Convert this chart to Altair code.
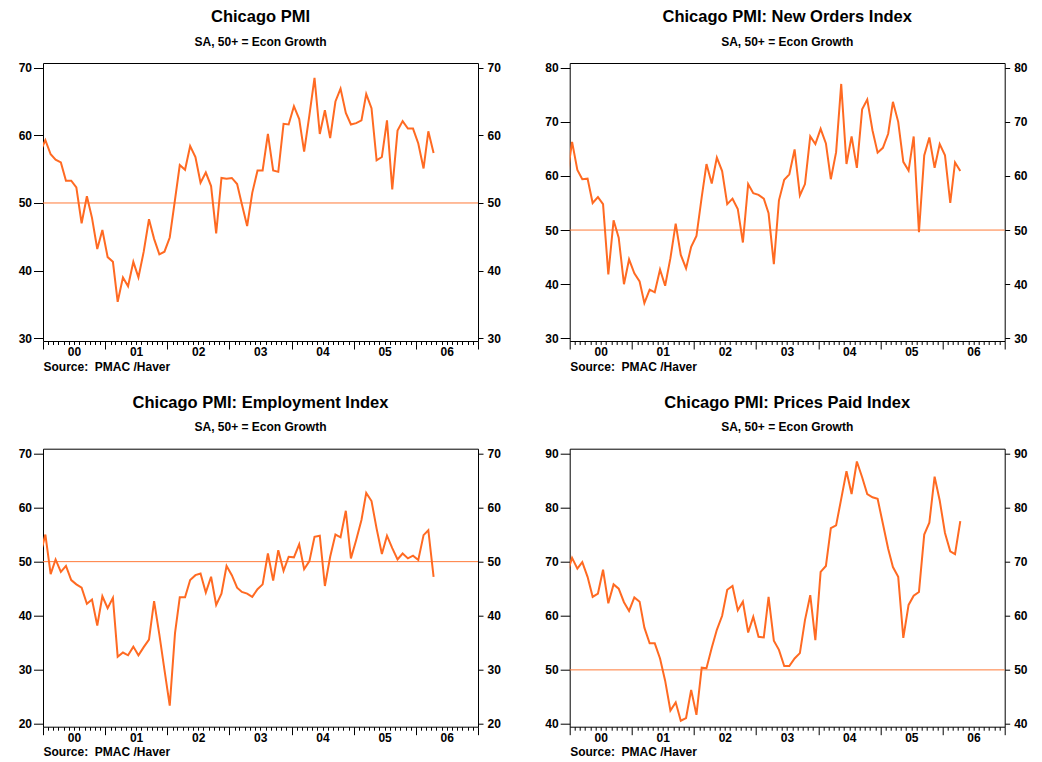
import altair as alt
import pandas as pd

# ---------------- data ----------------
# monthly observations, Dec-1999 .. Apr-2006 (first point is clipped at the frame edge)
DATES = [(d + pd.Timedelta(days=14)).strftime("%Y-%m-%d")
         for d in pd.date_range("1999-12-01", periods=77, freq="MS")]

PMI = [57.5,
       59.3, 57.2, 56.4, 56.0, 53.3, 53.3, 52.3, 47.0, 51.0, 47.8,
       43.2, 46.0, 42.0, 41.3, 35.4, 39.0, 37.7, 41.3, 39.0, 42.8,
       47.6, 44.7, 42.4, 42.8, 44.9, 50.5, 55.6, 54.9, 58.4, 56.8,
       53.0, 54.5, 52.5, 45.5, 53.7, 53.6, 53.7, 52.8, 49.8, 46.6,
       51.5, 54.8, 54.8, 60.2, 54.8, 54.6, 61.7, 61.6, 64.3, 62.4,
       57.6, 63.0, 68.5, 60.2, 63.7, 59.6, 65.0, 66.9, 63.3, 61.6,
       61.8, 62.2, 66.1, 64.0, 56.3, 56.8, 62.2, 52.0, 60.7, 62.1,
       61.0, 61.0, 58.8, 55.1, 60.6, 57.4]

NEW_ORDERS = [59.5,
              66.3, 61.1, 59.4, 59.5, 55.0, 56.1, 54.8, 41.8, 51.8, 48.6,
              40.0, 44.6, 42.0, 40.5, 36.5, 39.0, 38.5, 42.7, 39.7, 44.8,
              51.2, 45.4, 42.9, 46.9, 48.9, 56.1, 62.2, 58.6, 63.4, 60.9,
              54.8, 55.8, 53.9, 47.7, 58.5, 56.8, 56.5, 55.8, 53.1, 43.7,
              55.5, 59.3, 60.3, 64.9, 56.4, 58.5, 67.3, 65.9, 68.7, 66.0,
              59.4, 64.4, 77.0, 62.2, 67.3, 61.5, 72.3, 74.1, 68.4, 64.3,
              65.2, 67.8, 73.7, 70.0, 62.6, 61.0, 67.3, 49.6, 63.8, 67.1,
              61.5, 65.9, 63.8, 55.0, 62.5, 60.9]

EMPLOYMENT = [51.2,
              55.0, 47.7, 50.4, 48.1, 49.2, 46.6, 45.8, 45.2, 42.2, 43.0,
              38.2, 43.6, 41.4, 43.3, 32.4, 33.2, 32.7, 34.3, 32.7, 34.2,
              35.6, 42.7, 36.5, 30.0, 23.4, 36.8, 43.4, 43.4, 46.6, 47.5,
              47.8, 44.3, 47.2, 42.0, 44.1, 49.2, 47.5, 45.2, 44.4, 44.1,
              43.5, 44.9, 45.8, 51.5, 46.5, 52.1, 48.3, 50.9, 50.8, 53.2,
              48.6, 50.1, 54.6, 54.8, 45.5, 50.9, 55.0, 54.5, 59.4, 50.6,
              54.0, 57.7, 62.7, 61.2, 56.1, 51.4, 54.8, 52.5, 50.4, 51.5,
              50.6, 51.1, 50.3, 54.9, 55.8, 47.2]

PRICES_PAID = [67.7,
               70.7, 68.7, 69.9, 67.2, 63.5, 64.1, 68.5, 62.3, 65.8, 65.0,
               62.5, 60.9, 63.4, 62.6, 57.8, 54.9, 54.9, 52.1, 48.0, 42.5,
               44.0, 40.6, 41.1, 46.3, 41.7, 50.4, 50.3, 54.1, 57.4, 60.0,
               64.8, 65.5, 61.0, 62.6, 56.9, 59.8, 56.1, 56.0, 63.5, 55.4,
               53.7, 50.7, 50.7, 52.1, 53.1, 59.2, 63.8, 55.5, 68.1, 69.2,
               76.2, 76.7, 81.6, 86.7, 82.5, 88.5, 85.6, 82.5, 81.9, 81.6,
               77.0, 72.4, 69.0, 67.2, 55.9, 62.0, 63.7, 64.4, 75.0, 77.2,
               85.7, 81.3, 75.3, 71.9, 71.4, 77.5]

TITLES = ["Chicago PMI", "Chicago PMI: New Orders Index",
          "Chicago PMI: Employment Index", "Chicago PMI: Prices Paid Index"]
SUBTITLE = "SA, 50+ = Econ Growth"
SOURCE = "Source:\u00a0 PMAC /Haver"
THRESHOLD = [50]

Y_TICKS = [[30, 40, 50, 60, 70],
           [30, 40, 50, 60, 70, 80],
           [20, 30, 40, 50, 60, 70],
           [40, 50, 60, 70, 80, 90]]
Y_DOMAINS = [[29.6, 70.69], [29.5, 80.87], [19.5, 70.87], [39.5, 90.87]]

# month ticks Jan-2000 .. Jan-2007 (year boundaries are the long ticks)
MONTH_TICKS = [alt.DateTime(year=2000 + k // 12, month=k % 12 + 1, date=1, utc=True)
               for k in range(85)]
X_DOMAIN = [alt.DateTime(year=2000, month=1, date=1, utc=True),
            alt.DateTime(year=2007, month=1, date=1, utc=True)]

# ---------------- styling ----------------
FONT = "Liberation Sans"
ORANGE = "#FF6A22"
REF_ORANGE = "#FF7A38"
PLOT_W, PLOT_H = 435, 278


def panel(title, values, yticks, ydomain):
    df = pd.DataFrame({"date": DATES, "value": values})
    ref = pd.DataFrame({"level": THRESHOLD})
    yscale = alt.Scale(domain=ydomain, nice=False, zero=False)

    xaxis = alt.Axis(
        values=MONTH_TICKS,
        tickSize={"condition": {"test": "utcmonth(datum.value) === 0", "value": 8}, "value": 3.5},
        labelExpr="utcmonth(datum.value) === 6 ? utcFormat(datum.value, '%y') : ''",
        labelOverlap=False,
        labelFlush=False,
        labelPadding=2,
        title=SOURCE,
        titleAnchor="start",
        titleAlign="left",
        titleBaseline="alphabetic",
        titleX=0,
        titleY=29,
        titleFont=FONT,
        titleFontSize=12,
        titleFontWeight="bold",
        titleColor="black",
    )

    rule = alt.Chart(ref).mark_rule(color=REF_ORANGE, strokeWidth=1).encode(
        y=alt.Y("level:Q", scale=yscale,
                axis=alt.Axis(orient="right", values=yticks, tickSize=5,
                              labelPadding=4, labelFlush=False, title=None))
    )
    line = alt.Chart(df).mark_line(color=ORANGE, strokeWidth=2, clip=True).encode(
        x=alt.X("date:T", scale=alt.Scale(type="utc", domain=X_DOMAIN), axis=xaxis),
        y=alt.Y("value:Q", scale=yscale,
                axis=alt.Axis(orient="left", values=yticks, tickSize=9.5,
                              labelPadding=2, labelFlush=False, title=None)),
    )
    return alt.layer(rule, line).resolve_axis(y="independent").properties(
        width=PLOT_W,
        height=PLOT_H,
        title=alt.TitleParams(
            text=title,
            subtitle=SUBTITLE,
            anchor="middle",
            frame="group",
            font=FONT,
            fontSize=16.5,
            fontWeight="bold",
            color="black",
            subtitleFont=FONT,
            subtitleFontSize=12,
            subtitleFontWeight="bold",
            subtitleColor="black",
            subtitlePadding=11,
            offset=14,
        ),
    )


panels = [panel(TITLES[0], PMI, Y_TICKS[0], Y_DOMAINS[0]),
          panel(TITLES[1], NEW_ORDERS, Y_TICKS[1], Y_DOMAINS[1]),
          panel(TITLES[2], EMPLOYMENT, Y_TICKS[2], Y_DOMAINS[2]),
          panel(TITLES[3], PRICES_PAID, Y_TICKS[3], Y_DOMAINS[3])]

chart = alt.concat(
    *panels, columns=2, spacing={"row": 107.7, "column": 91.7}, bounds="flush"
).properties(
    padding={"left": 9, "top": 0, "right": 0, "bottom": 0},
    background="white",
).configure_view(
    stroke="black", strokeWidth=1
).configure_axis(
    labelFont=FONT, labelFontSize=12, labelFontWeight="bold", labelColor="black",
    tickColor="black", tickWidth=1, domain=False, grid=False,
)

chart.save("out.html", embed_options={"renderer": "svg", "actions": False})
